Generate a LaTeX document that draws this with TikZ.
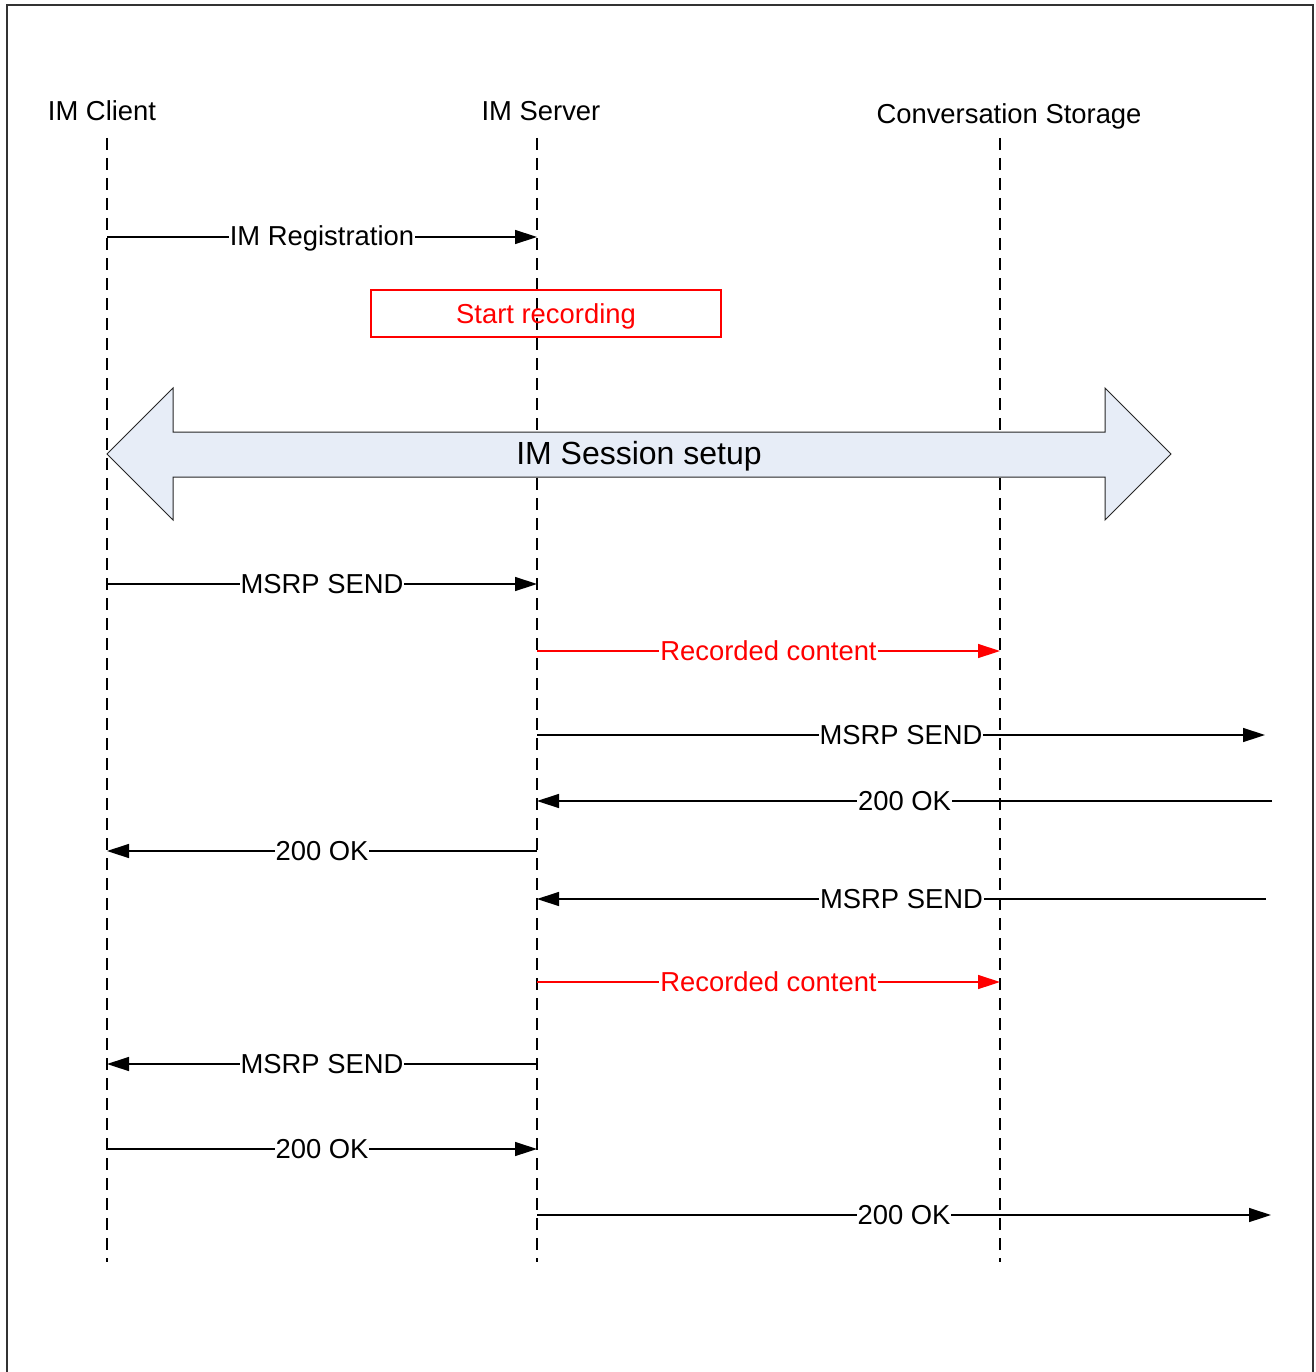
\documentclass[tikz,border=0pt]{standalone}
\usepackage{fontspec}
\setmainfont{Liberation Sans}
\usetikzlibrary{arrows.meta}
\definecolor{sessfill}{HTML}{E7EDF7}
\definecolor{framecol}{HTML}{333333}
\tikzset{
  lifeline/.style={line width=1.4pt, dash pattern=on 12pt off 8pt},
  msg/.style={line width=1.4pt, -{Triangle[length=22pt,width=14pt]}},
  recmsg/.style={msg, red},
  lbl/.style={fill=white, inner xsep=1pt, inner ysep=2pt, anchor=base, yshift=-9pt,
              font=\fontsize{27.4}{30}\selectfont},
  header/.style={anchor=base, inner sep=0pt, font=\fontsize{27.4}{30}\selectfont},
}
\begin{document}
\begin{tikzpicture}[x=1pt,y=-1pt]
\useasboundingbox (0,0) rectangle (1315,1372);
\fill[white] (0,0) rectangle (1315,1372);
% frame
\draw[framecol, line width=1.5pt] (7,1380) -- (7,5) -- (1313,5) -- (1313,1380);

% headers
\node[header] (client) at (102,121) {IM Client};
\node[header] (server) at (541,121) {IM Server};
\node[header] (storage) at (1009,124) {Conversation Storage};

% lifelines
\coordinate (cTop) at (107,138); \coordinate (cBot) at (107,1262);
\coordinate (sTop) at (537,138); \coordinate (sBot) at (537,1262);
\coordinate (gTop) at (1000,138); \coordinate (gBot) at (1000,1262);
\draw[lifeline] (cTop) -- (cBot);
\draw[lifeline] (sTop) -- (sBot);
\draw[lifeline] (gTop) -- (gBot);

% 1 IM Registration
\coordinate (m1a) at (107,237); \coordinate (m1b) at (537,237);
\draw[msg] (m1a) -- (m1b) node[midway,lbl] {IM Registration};

% Start recording box
\draw[red, line width=1.3pt] (371,290) rectangle (721,337);
\node[text=red, anchor=base, inner sep=0pt, font=\fontsize{27.4}{30}\selectfont] (rec) at (546,323) {Start recording};

% Session setup block arrow
\draw[fill=sessfill, draw=black!85, line width=1pt, line join=miter]
  (107,454) -- (173,388) -- (173,432) -- (1105,432) -- (1105,388) -- (1171,454)
  -- (1105,520) -- (1105,477) -- (173,477) -- (173,520) -- cycle;
\node[font=\fontsize{32}{36}\selectfont, anchor=base, inner sep=0pt] (sess) at (639,464) {IM Session setup};

% 4 MSRP SEND client -> server
\coordinate (m4a) at (107,584); \coordinate (m4b) at (537,584);
\draw[msg] (m4a) -- (m4b) node[midway,lbl] {MSRP SEND};

% 5 Recorded content
\coordinate (m5a) at (537,651); \coordinate (m5b) at (1000,651);
\draw[recmsg] (m5a) -- (m5b) node[midway,lbl,text=red] {Recorded content};

% 6 MSRP SEND server -> out
\coordinate (m6a) at (537,735); \coordinate (m6b) at (1265,735);
\draw[msg] (m6a) -- (m6b) node[midway,lbl] {MSRP SEND};

% 7 200 OK out -> server
\coordinate (m7a) at (1272,801); \coordinate (m7b) at (537,801);
\draw[msg] (m7a) -- (m7b) node[midway,lbl] {200 OK};

% 8 200 OK server -> client
\coordinate (m8a) at (537,851); \coordinate (m8b) at (107,851);
\draw[msg] (m8a) -- (m8b) node[midway,lbl] {200 OK};

% 9 MSRP SEND out -> server
\coordinate (m9a) at (1266,899); \coordinate (m9b) at (537,899);
\draw[msg] (m9a) -- (m9b) node[midway,lbl] {MSRP SEND};

% 10 Recorded content
\coordinate (m10a) at (537,982); \coordinate (m10b) at (1000,982);
\draw[recmsg] (m10a) -- (m10b) node[midway,lbl,text=red] {Recorded content};

% 11 MSRP SEND server -> client
\coordinate (m11a) at (537,1064); \coordinate (m11b) at (107,1064);
\draw[msg] (m11a) -- (m11b) node[midway,lbl] {MSRP SEND};

% 12 200 OK client -> server
\coordinate (m12a) at (107,1149); \coordinate (m12b) at (537,1149);
\draw[msg] (m12a) -- (m12b) node[midway,lbl] {200 OK};

% 13 200 OK server -> out
\coordinate (m13a) at (537,1215); \coordinate (m13b) at (1271,1215);
\draw[msg] (m13a) -- (m13b) node[midway,lbl] {200 OK};
\end{tikzpicture}
\end{document}
